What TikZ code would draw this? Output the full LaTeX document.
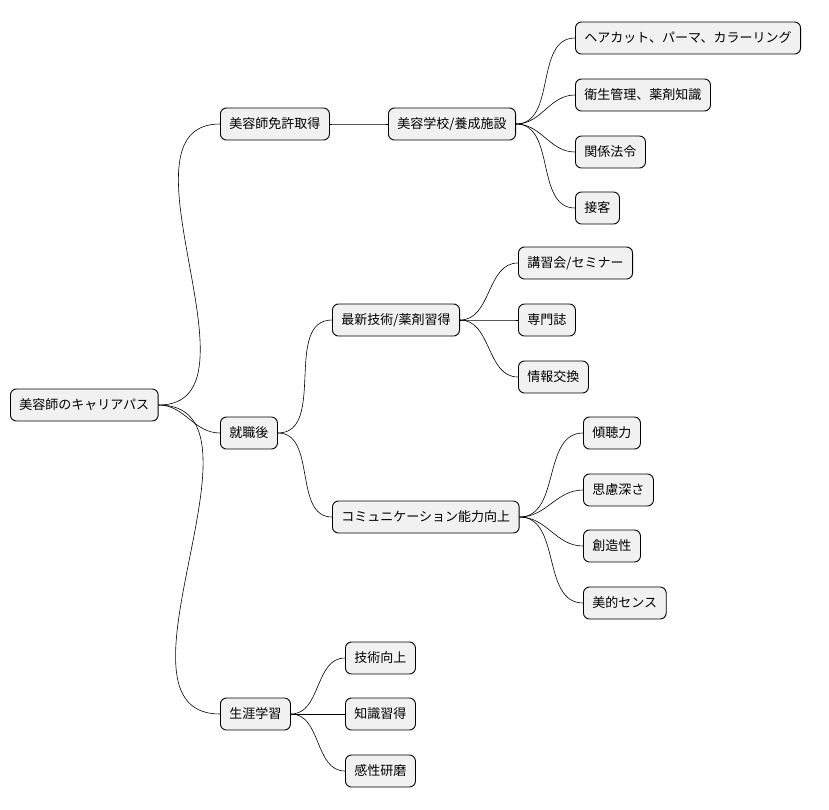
\documentclass[tikz,border=0pt]{standalone}
\usepackage{fontspec}
\setmainfont{Noto Sans CJK JP}
\definecolor{boxfill}{HTML}{F1F1F1}
\tikzset{
  topic/.style = {draw, fill = boxfill, rounded corners = 6pt, anchor = west,
    minimum height = 32pt, inner xsep = 9pt, line width = 0.9pt,
    font = \fontsize{13}{15}\selectfont},
  branch/.style = {line width = 0.6pt}
}
\begin{document}
\begin{tikzpicture}[x = 1pt, y = -1pt]
\useasboundingbox (0, 0) rectangle (829, 809);
% root
\node [topic] (root) at (10, 405) {美容師のキャリアパス};
% first level
\node [topic] (licence) at (220, 124) {美容師免許取得};
\node [topic] (job) at (220, 433) {就職後};
\node [topic] (life) at (220, 714) {生涯学習};
% second level
\node [topic] (school) at (388, 124) {美容学校/養成施設};
\node [topic] (tech) at (332, 320) {最新技術/薬剤習得};
\node [topic] (comm) at (332, 517) {コミュニケーション能力向上};
\node [topic] (skill) at (345, 658) {技術向上};
\node [topic] (know) at (345, 714) {知識習得};
\node [topic] (sense) at (345, 771) {感性研磨};
% third level
\node [topic] (hair) at (575, 38) {ヘアカット、パーマ、カラーリング};
\node [topic] (hygiene) at (575, 95) {衛生管理、薬剤知識};
\node [topic] (law) at (575, 152) {関係法令};
\node [topic] (service) at (575, 208) {接客};
\node [topic] (seminar) at (518, 263) {講習会/セミナー};
\node [topic] (journal) at (518, 320) {専門誌};
\node [topic] (info) at (518, 377) {情報交換};
\node [topic] (listen) at (583, 433) {傾聴力};
\node [topic] (thought) at (583, 490) {思慮深さ};
\node [topic] (create) at (583, 546) {創造性};
\node [topic] (beauty) at (583, 603) {美的センス};
% connectors
\foreach \from/\to in {root/licence, root/job, root/life,
    licence/school, job/tech, job/comm, life/skill, life/know, life/sense,
    school/hair, school/hygiene, school/law, school/service,
    tech/seminar, tech/journal, tech/info,
    comm/listen, comm/thought, comm/create, comm/beauty}
  \draw [branch] (\from.east) to [out = 0, in = 180] (\to.west);
\end{tikzpicture}
\end{document}
